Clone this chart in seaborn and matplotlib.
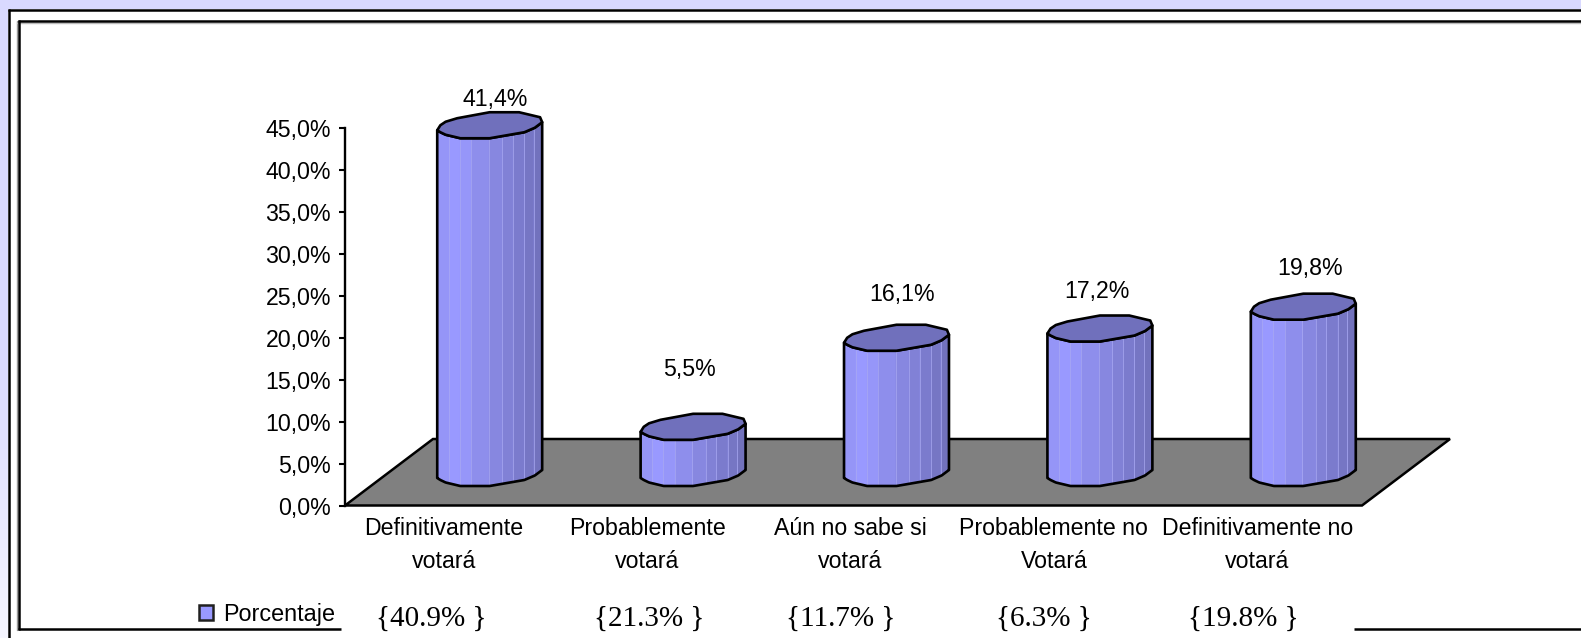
import numpy as np
import pandas as pd
import matplotlib
matplotlib.use("Agg")
import matplotlib.pyplot as plt
from matplotlib.lines import Line2D
from matplotlib.patches import Patch, Polygon, Rectangle
from matplotlib.transforms import ScaledTranslation
import seaborn as sns

# ---- data ----
categories = ["Definitivamente\nvotará", "Probablemente\nvotará", "Aún no sabe si\nvotará",
              "Probablemente no\nVotará", "Definitivamente no\nvotará"]
values = [41.4, 5.5, 16.1, 17.2, 19.8]
value_labels = ["41,4%", "5,5%", "16,1%", "17,2%", "19,8%"]
footnotes = ["{40.9% }", "{21.3% }", "{11.7% }", "{6.3% }", "{19.8% }"]
y_ticks = [0, 5, 10, 15, 20, 25, 30, 35, 40, 45]
y_tick_labels = ["0,0%", "5,0%", "10,0%", "15,0%", "20,0%", "25,0%", "30,0%", "35,0%", "40,0%", "45,0%"]
series_name = "Porcentaje"

# ---- layout (pixels of the 1581x638 canvas) ----
W, H = 1581, 638
AX_L, AX_R, AX_T, AX_B = 345.0, 1362.0, 127.5, 505.5
label_shift = [(5, 31), (-4, 62), (6, 48), (-3, 42), (7, 43)]
foot_shift = [-15, -1, -13, -13, -17]

FILL = "#9999FF"
CAP = "#7070BC"
LW = 1.9
facet_colors = ["#9595F7", "#9999FF", "#9696F9", "#8E8EEC", "#8787E0",
                "#8181D6", "#7B7BCD", "#7676C4", "#7272BD"]
facet_edges = [0, .111, .216, .324, .492, .619, .721, .829, .92, 1]
# cylinder silhouette, as (fraction of the width, pixels below the left corner)
arc_u = [0, .03, .08, .22, .5, .83, .93, 1]
arc_px = [0, 2, 4.5, 8, 8, 2, -2.5, -8]
back_u = [1, .98, .78, .5, .19, .08, .03, 0]
back_px = [-8, -13, -18, -18, -12, -8.5, -5, 0]

sns.set_theme(style="white")
plt.rcParams["font.family"] = ["Liberation Sans", "DejaVu Sans"]

fig = plt.figure(figsize=(W / 100, H / 100), dpi=100, facecolor="white")
ax = fig.add_axes([AX_L / W, 1 - AX_B / H, (AX_R - AX_L) / W, (AX_B - AX_T) / H])
ax.patch.set_alpha(0)

df = pd.DataFrame({"categoria": categories, "porcentaje": values})
sns.barplot(data=df, x="categoria", y="porcentaje", color=FILL, saturation=1,
            width=0.516, ax=ax, zorder=3)
ax.set_xlim(-0.5, 4.5)
ax.set_ylim(0, 45)
ax.set_xlabel("")
ax.set_ylabel("")

px_y = 45 / (AX_B - AX_T)      # data units per pixel
px_x = 5 / (AX_R - AX_L)
floor_top = (AX_B - 439) * px_y
floor_dx = 88 * px_x
base_y = (AX_B - 478) * px_y
bar_dx = 43 * px_x

ax.add_patch(Polygon([(-0.5, 0), (4.5, 0), (4.5 + floor_dx, floor_top), (-0.5 + floor_dx, floor_top)],
                     closed=True, facecolor="#808080", edgecolor="black", lw=1.8,
                     zorder=1, clip_on=False, joinstyle="miter"))


def lower(u):
    return -np.interp(u, arc_u, arc_px) * px_y


for i, bar in enumerate(ax.patches[:5]):
    val = values[i]
    sx, sy = label_shift[i]
    x0 = bar.get_x() + bar_dx
    bw = bar.get_width()
    us = np.linspace(0, 1, 120)
    low = base_y + lower(us)
    top = base_y + val + lower(us)
    body = np.r_[np.c_[x0 + us * bw, low], np.c_[x0 + us[::-1] * bw, top[::-1]]]
    outline = Polygon(body, closed=True, facecolor="none", edgecolor="black", lw=LW,
                      zorder=6, clip_on=False, joinstyle="round")
    bar.set_x(x0)
    bar.set_y(base_y - 2)
    bar.set_height(val + 4)
    bar.set_linewidth(0)
    ax.add_patch(outline)
    bar.set_clip_path(outline.get_path(), ax.transData)
    for j, col in enumerate(facet_colors):
        ua = np.linspace(facet_edges[j], facet_edges[j + 1], 12)
        xs = x0 + ua * bw
        ax.fill(np.r_[xs, xs[::-1]],
                np.r_[base_y + lower(ua), (base_y + val + lower(ua))[::-1]],
                facecolor=col, edgecolor="none", zorder=4, clip_on=False)
        if j:
            ax.plot([xs[0]] * 2, [base_y + lower(ua[0]), base_y + val + lower(ua[0])],
                    color="#A9A9F2", lw=0.5, zorder=5, clip_on=False)
    cap_u = np.r_[arc_u, back_u[1:]]
    cap_px = np.r_[arc_px, back_px[1:]]
    ax.add_patch(Polygon(np.c_[x0 + cap_u * bw, base_y + val - cap_px * px_y], closed=True,
                         facecolor=CAP, edgecolor="black", lw=LW, zorder=7,
                         clip_on=False, joinstyle="round"))
    ax.annotate(value_labels[i], (x0 + bw / 2, base_y + val), xytext=(sx, sy),
                textcoords="offset pixels", ha="center", va="center",
                fontsize=16.7, color="black", zorder=8, annotation_clip=False)
    ax.annotate(footnotes[i], (i, 0), xytext=(foot_shift[i], -113),
                textcoords="offset pixels", ha="center", va="center",
                fontsize=21, family="Liberation Serif", color="black", annotation_clip=False)

# axes furniture
for s in ("top", "right", "bottom"):
    ax.spines[s].set_visible(False)
ax.spines["left"].set_visible(True)
ax.spines["left"].set_color("black")
ax.spines["left"].set_linewidth(1.7)
ax.spines["left"].set_zorder(9)
ax.set_yticks(y_ticks)
ax.set_yticklabels(y_tick_labels)
ax.tick_params(axis="y", left=True, length=4.3, width=1.5, color="black", pad=5.8,
               labelsize=16.7, labelcolor="black")
ax.tick_params(axis="x", bottom=False, pad=2.0, labelsize=16.7, labelcolor="black")
ax.set_xticks(range(5))
ax.set_xticklabels(categories, linespacing=1.6, ha="center")
offset = ScaledTranslation(-3 / 100, 0, fig.dpi_scale_trans)
for t in ax.get_xticklabels():
    t.set_transform(t.get_transform() + offset)

leg = ax.legend(handles=[Patch(facecolor=FILL, edgecolor="#202020", lw=1.8, label=series_name)],
                loc="center left", bbox_to_anchor=(199 / W, 1 - 614 / H),
                bbox_transform=fig.transFigure, frameon=False, fontsize=16.8,
                handlelength=0.62, handleheight=0.62, handletextpad=0.4,
                borderpad=0, borderaxespad=0, labelcolor="black")

# page frame and lavender margin
bg = fig.add_axes([0, 0, 1, 1], zorder=-1)
grad = np.r_[np.zeros(350), np.linspace(0, 1, H - 350)].reshape(-1, 1)
lav = np.array([0xD9, 0xD9, 0xFF]) / 255
end = np.array([0xF6, 0xF6, 0xFF]) / 255
bg.imshow(lav + (end - lav) * grad[..., None], extent=(0, 7.5, H, 0), aspect="auto", zorder=0)
bg.set_xlim(0, W)
bg.set_ylim(H, 0)
bg.axis("off")
bg.add_patch(Rectangle((0, 0), W, 9, facecolor="#D9D9FF", edgecolor="none"))
k = dict(color="black", solid_capstyle="butt")
bg.add_line(Line2D([8.5, 8.5], [9, H], lw=1.8, **k))
bg.add_line(Line2D([7.5, W], [10, 10], lw=1.8, **k))
bg.add_line(Line2D([17.3, 17.3], [21, 630], lw=1, color="#999999"))
bg.add_line(Line2D([17, W], [22.7, 22.7], lw=1, color="#BBBBBB"))
bg.add_line(Line2D([19, 19], [20, 630], lw=1.8, **k))
bg.add_line(Line2D([18, W], [21, 21], lw=1.8, **k))
bg.add_line(Line2D([18, 341], [629, 629], lw=1.8, **k))
bg.add_line(Line2D([1354, W], [629, 629], lw=1.8, **k))

fig.savefig("out.png", dpi=100, facecolor="white")
